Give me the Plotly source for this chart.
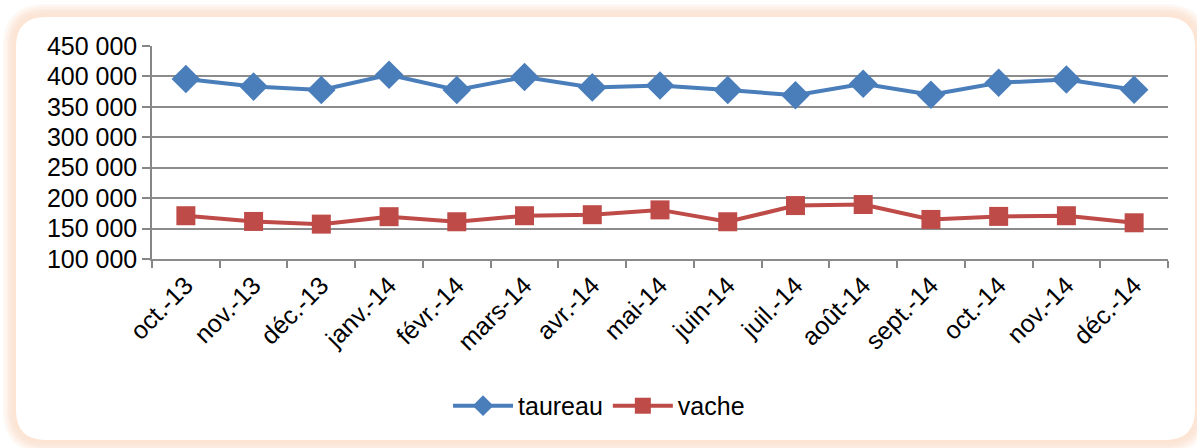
import plotly.graph_objects as go

months = [
    "oct.-13", "nov.-13", "déc.-13", "janv.-14", "févr.-14", "mars-14", "avr.-14",
    "mai-14", "juin-14", "juil.-14", "août-14", "sept.-14", "oct.-14", "nov.-14", "déc.-14",
]
taureau = [395700, 383300, 377800, 402800, 377800, 399000, 382000,
           385000, 377800, 369000, 388000, 370000, 389500, 395000, 378000]
vache = [171100, 161700, 157300, 169500, 161200, 171100, 172800,
         180700, 161200, 187800, 189500, 165000, 170000, 171100, 159500]

# plot area in pixels (used to place the frame shapes in paper coords)
W, H = 1197, 448
L, R, T, B = 152, 1168, 46, 259


def px(x):
    return (x - L) / (R - L)


def py(y):
    return (B - y) / (B - T)


def round_rect(x0, y0, x1, y1, r):
    # rounded rectangle path, given in pixels, converted to paper coords
    pts = [
        ("M", x0 + r, y0), ("L", x1 - r, y0), ("Q", x1, y0, x1, y0 + r),
        ("L", x1, y1 - r), ("Q", x1, y1, x1 - r, y1), ("L", x0 + r, y1),
        ("Q", x0, y1, x0, y1 - r), ("L", x0, y0 + r), ("Q", x0, y0, x0 + r, y0),
    ]
    out = ""
    for p in pts:
        cmd, coords = p[0], p[1:]
        pairs = [f"{px(coords[i]):.5f},{py(coords[i + 1]):.5f}" for i in range(0, len(coords), 2)]
        out += cmd + " ".join(pairs) + " "
    return out + "Z"


shapes = []
# soft orange glow round the frame
for i, op in enumerate([0.25, 0.35, 0.5, 0.65, 0.85]):
    d = 13 - i * 2.6
    shapes.append(dict(
        type="path", xref="paper", yref="paper", layer="below",
        path=round_rect(16 - d, 17 - d, 1195 + d, 440 + d, 30 + d),
        fillcolor="#fbe4d4", opacity=op, line=dict(width=0),
    ))
shapes.append(dict(
    type="path", xref="paper", yref="paper", layer="below",
    path=round_rect(16, 17, 1195, 440, 30),
    fillcolor="white", line=dict(width=0),
))

fig = go.Figure()
fig.add_trace(go.Scatter(
    x=months, y=taureau, name="taureau", mode="lines+markers",
    line=dict(color="#4a7ebb", width=4),
    marker=dict(symbol="diamond", size=22, color="#4a7ebb"),
))
fig.add_trace(go.Scatter(
    x=months, y=vache, name="vache", mode="lines+markers",
    line=dict(color="#be4b48", width=4),
    marker=dict(symbol="square", size=19, color="#be4b48"),
))

font = "Liberation Sans, Arial, sans-serif"
fig.update_layout(
    width=W, height=H,
    margin=dict(l=L, r=W - R, t=T, b=H - B, autoexpand=False),
    paper_bgcolor="white",
    plot_bgcolor="rgba(0,0,0,0)",
    separators=", ",
    font=dict(family=font, size=25, color="black"),
    shapes=shapes,
    showlegend=True,
    legend=dict(
        orientation="h", x=0.44, xanchor="center", y=-0.69, yanchor="middle",
        font=dict(size=25), itemwidth=60, bgcolor="rgba(0,0,0,0)",
    ),
    xaxis=dict(
        type="category", range=[-0.5, len(months) - 0.5],
        tickangle=-45, tickson="boundaries", automargin=False,
        ticks="outside", ticklen=7, tickcolor="#868686", tickwidth=1.5,
        showgrid=False, showline=True, linecolor="#8c8c8c", linewidth=1.5,
        zeroline=False, tickfont=dict(size=25),
    ),
    yaxis=dict(
        range=[100000, 450000], dtick=50000, tickformat=",d", automargin=False,
        showgrid=True, gridcolor="#8c8c8c", gridwidth=1.5,
        showline=True, linecolor="#868686", linewidth=1.5,
        ticks="outside", ticklen=8, tickcolor="#868686", tickwidth=1.5,
        zeroline=False, tickfont=dict(size=25),
    ),
)

# the page's default body margin would push the chart 8px down and right
fig.write_html(
    "out.html",
    config={"displayModeBar": False},
    post_script="document.body.style.margin='0';",
)
